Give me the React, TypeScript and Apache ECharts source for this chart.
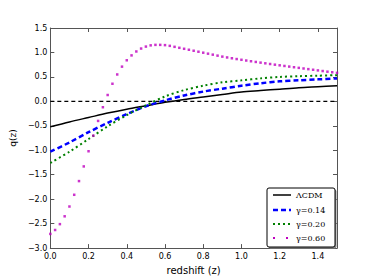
import React, { useEffect, useRef } from "react";
import * as echarts from "echarts";

const zSteps = [0.0, 0.1, 0.2, 0.3, 0.4, 0.5, 0.6, 0.7, 0.8, 0.9, 1.0, 1.1, 1.2, 1.3, 1.4, 1.5];
const lcdm = [-0.52, -0.42, -0.33, -0.24, -0.16, -0.09, -0.02, 0.04, 0.09, 0.14, 0.19, 0.22, 0.25, 0.28, 0.30, 0.32];
const gamma014 = [-1.03, -0.84, -0.63, -0.44, -0.26, -0.10, 0.02, 0.12, 0.20, 0.26, 0.32, 0.37, 0.41, 0.43, 0.45, 0.47];
const gamma020 = [-1.26, -1.03, -0.77, -0.51, -0.28, -0.08, 0.10, 0.23, 0.32, 0.39, 0.43, 0.47, 0.50, 0.515, 0.525, 0.535];

const zFine = [
  0.0, 0.025, 0.05, 0.075, 0.1, 0.125, 0.15, 0.175, 0.2, 0.225, 0.25, 0.275, 0.3, 0.325, 0.35, 0.375,
  0.4, 0.425, 0.45, 0.475, 0.5, 0.525, 0.55, 0.575, 0.6, 0.625, 0.65, 0.675, 0.7, 0.725, 0.75, 0.775,
  0.8, 0.825, 0.85, 0.875, 0.9, 0.925, 0.95, 0.975, 1.0, 1.025, 1.05, 1.075, 1.1, 1.125, 1.15, 1.175,
  1.2, 1.225, 1.25, 1.275, 1.3, 1.325, 1.35, 1.375, 1.4, 1.425, 1.45, 1.475, 1.5,
];
const gamma060 = [
  -2.71, -2.63, -2.51, -2.35, -2.15, -1.91, -1.63, -1.33, -1.02, -0.70, -0.40, -0.12, 0.13, 0.36, 0.55, 0.71,
  0.84, 0.94, 1.02, 1.08, 1.12, 1.145, 1.155, 1.155, 1.15, 1.135, 1.115, 1.095, 1.075, 1.055, 1.035, 1.015,
  0.995, 0.975, 0.955, 0.935, 0.915, 0.898, 0.881, 0.865, 0.85, 0.835, 0.82, 0.806, 0.792, 0.778, 0.764, 0.75,
  0.737, 0.724, 0.711, 0.698, 0.685, 0.672, 0.659, 0.646, 0.633, 0.62, 0.607, 0.595, 0.583,
];
const zeroLine = [0, 0];
const zeroZ = [0, 1.5];

const legendLabels = ["\u039BCDM", "\u03B3=0.14", "\u03B3=0.20", "\u03B3=0.60"];

const fmt = (v: number) => v.toFixed(1).replace("-", "\u2212");

export default function App() {
  const ref = useRef<HTMLDivElement>(null);
  useEffect(() => {
    if (!ref.current) return;
    const chart = echarts.init(ref.current, null, { renderer: "svg" });
    const pair = (xs: number[], ys: number[]) => xs.map((x, i) => [x, ys[i]]);
    const axisLine = { show: true, onZero: false, lineStyle: { color: "#555", width: 1 } };
    const tickIn = { show: true, inside: true, length: 4, lineStyle: { color: "#555" } };
    const labelStyle = { fontFamily: "DejaVu Sans", fontSize: 8, color: "#000" };

    const legX = 267, legY = 188, legW = 68, legH = 59;
    const rowY = [195, 210, 224, 238];
    const legendGraphics: any[] = [
      { type: "rect", shape: { x: legX + 1.5, y: legY + 1.5, width: legW, height: legH, r: 2 }, style: { fill: "#888" }, z: 100 },
      { type: "rect", shape: { x: legX, y: legY, width: legW, height: legH, r: 2 }, style: { fill: "#fff", stroke: "#000", lineWidth: 1 }, z: 101 },
      { type: "line", shape: { x1: 273, y1: rowY[0], x2: 291, y2: rowY[0] }, style: { stroke: "#000", lineWidth: 1.5 }, z: 102 },
      { type: "line", shape: { x1: 273, y1: rowY[1], x2: 291, y2: rowY[1] }, style: { stroke: "#0000ff", lineWidth: 2.5, lineDash: [5, 3] }, z: 102 },
      { type: "line", shape: { x1: 273, y1: rowY[2], x2: 291, y2: rowY[2] }, style: { stroke: "#008000", lineWidth: 2, lineDash: [2, 3] }, z: 102 },
      { type: "rect", shape: { x: 273, y: rowY[3] - 1, width: 2, height: 2 }, style: { fill: "#bf00bf" }, z: 102 },
      { type: "rect", shape: { x: 286, y: rowY[3] - 1, width: 2, height: 2 }, style: { fill: "#bf00bf" }, z: 102 },
    ];
    legendLabels.forEach((t, i) => {
      legendGraphics.push({
        type: "text",
        x: 296,
        y: rowY[i],
        style: { text: t, fontFamily: "DejaVu Serif", fontSize: 8, fill: "#000", textVerticalAlign: "middle" },
        z: 103,
      });
    });

    chart.setOption({
      animation: false,
      grid: { left: 47, right: 37, top: 28, bottom: 29 },
      xAxis: [
        {
          type: "value", min: 0, max: 1.5, interval: 0.2, position: "bottom",
          axisLine, axisTick: tickIn, splitLine: { show: false },
          axisLabel: { ...labelStyle, formatter: (v: number) => (v > 1.45 ? "" : fmt(v)), margin: 4 },
          name: "redshift (z)", nameLocation: "middle", nameGap: 16,
          nameTextStyle: { fontFamily: "DejaVu Sans", fontSize: 10, color: "#000" },
        },
        {
          type: "value", min: 0, max: 1.5, interval: 0.2, position: "top",
          axisLine, axisTick: tickIn, splitLine: { show: false }, axisLabel: { show: false },
        },
      ],
      yAxis: [
        {
          type: "value", min: -3, max: 1.5, interval: 0.5, position: "left",
          axisLine, axisTick: tickIn, splitLine: { show: false },
          axisLabel: { ...labelStyle, formatter: (v: number) => fmt(v), margin: 3 },
          name: "q(z)", nameLocation: "middle", nameGap: 31,
          nameTextStyle: { fontFamily: "DejaVu Sans", fontSize: 9, color: "#000" },
        },
        {
          type: "value", min: -3, max: 1.5, interval: 0.5, position: "right",
          axisLine, axisTick: tickIn, splitLine: { show: false }, axisLabel: { show: false },
        },
      ],
      series: [
        {
          type: "line", data: pair(zeroZ, zeroLine), showSymbol: false, symbol: "none",
          lineStyle: { color: "#000", width: 1.2, type: [4, 3] }, z: 2,
        },
        {
          type: "line", data: pair(zSteps, lcdm), symbol: "none", smooth: 0.3,
          lineStyle: { color: "#000", width: 1.5 }, z: 3,
        },
        {
          type: "line", data: pair(zSteps, gamma014), symbol: "none", smooth: 0.3,
          lineStyle: { color: "#0000ff", width: 2.5, type: [5, 3] }, z: 4,
        },
        {
          type: "line", data: pair(zSteps, gamma020), symbol: "none", smooth: 0.3,
          lineStyle: { color: "#008000", width: 2, type: [2, 3] }, z: 5,
        },
        {
          type: "scatter", data: pair(zFine, gamma060), symbol: "rect", symbolSize: 2.5,
          itemStyle: { color: "#bf00bf" }, z: 6,
        },
      ],
      graphic: legendGraphics,
    });
    return () => chart.dispose();
  }, []);
  return <div ref={ref} style={{ width: 374, height: 280, position: "absolute", left: 0, top: 0 }} />;
}
